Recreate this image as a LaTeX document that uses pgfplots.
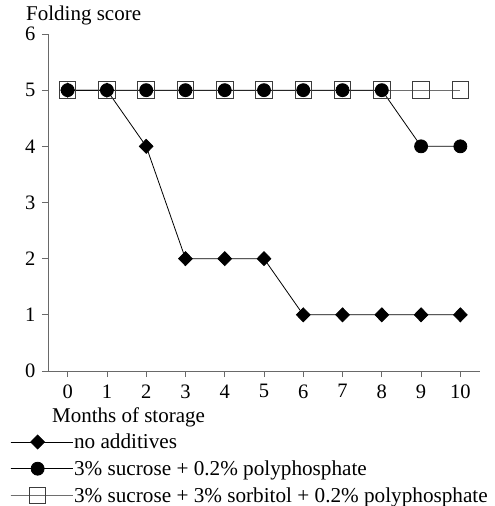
\documentclass[border=0pt]{standalone}
\usepackage{fontspec}
\setmainfont{Liberation Serif}
\usepackage{pgfplots}
\pgfplotsset{compat=1.18}
\definecolor{axisgray}{RGB}{105,105,105}
\definecolor{sqgray}{RGB}{60,60,60}
\definecolor{lngray}{RGB}{110,110,110}
\begin{document}
\begin{tikzpicture}
\useasboundingbox (-48pt,-135pt) rectangle (447pt,371pt);
\begin{axis}[
  scale only axis, width=432pt, height=337pt,
  xmin=-0.5, xmax=10.5, ymin=0, ymax=6,
  axis x line=bottom, axis y line=left,
  axis line style={draw=axisgray, line width=0.8pt, -},
  xtick={0,...,10}, ytick={0,...,6},
  tick align=outside, major tick length=6pt,
  every tick/.style={axisgray, line width=0.8pt},
  font=\fontsize{20.5}{24}\selectfont,
  /pgf/number format/assume math mode=true,
  xticklabel style={yshift=-4pt},
  yticklabel style={xshift=-3pt},
  title={Folding score},
  every axis title shift=0pt,
  title style={at={(axis description cs:-0.051,1.0415)}, anchor=base west, inner sep=0pt, xshift=0pt, yshift=0pt, font=\fontsize{21}{24}\selectfont},
  xlabel={Months of storage},
  xlabel style={at={(axis description cs:0.009,-0.153)}, anchor=base west, inner sep=0pt, font=\fontsize{21}{24}\selectfont},
  legend style={at={(axis description cs:-0.088,-0.183)}, anchor=north west, draw=none, fill=none,
    inner sep=0pt, row sep=8.5pt, font=\fontsize{21.2}{24}\selectfont,
    nodes={inner sep=1pt}, cells={anchor=west}},
  legend cell align=left,
  legend image code/.code={\path (0pt,0pt) -- (62pt,0pt); \draw[mark repeat=2, mark phase=2] plot coordinates {(0pt,0pt)(27pt,0pt)(54pt,0pt)};},
]
\addlegendimage{black, line width=0.8pt, mark=diamond*, mark size=7pt, mark options={solid, xscale=1.3, fill=black}}
\addlegendentry{no additives}
\addlegendimage{black, line width=0.8pt, mark=*, mark size=6.5pt, mark options={solid, fill=black}}
\addlegendentry{3\% sucrose + 0.2\% polyphosphate}
\addlegendimage{lngray, line width=0.9pt, mark=square, mark size=8.3pt, mark options={solid, draw=sqgray, line width=0.9pt}}
\addlegendentry{3\% sucrose + 3\% sorbitol + 0.2\% polyphosphate}

\addplot[forget plot, lngray, line width=0.9pt, mark=square, mark size=8.3pt, mark options={solid, draw=sqgray, line width=0.9pt}]
  coordinates {(0,5)(1,5)(2,5)(3,5)(4,5)(5,5)(6,5)(7,5)(8,5)(9,5)(10,5)};
\addplot[forget plot, black, line width=0.8pt, mark=*, mark size=6.5pt, mark options={solid, fill=black}]
  coordinates {(0,5)(1,5)(2,5)(3,5)(4,5)(5,5)(6,5)(7,5)(8,5)(9,4)(10,4)};
\addplot[forget plot, black, line width=0.8pt, mark=diamond*, mark size=7pt, mark options={solid, xscale=1.3, fill=black}]
  coordinates {(0,5)(1,5)(2,4)(3,2)(4,2)(5,2)(6,1)(7,1)(8,1)(9,1)(10,1)};
\end{axis}
\end{tikzpicture}
\end{document}
